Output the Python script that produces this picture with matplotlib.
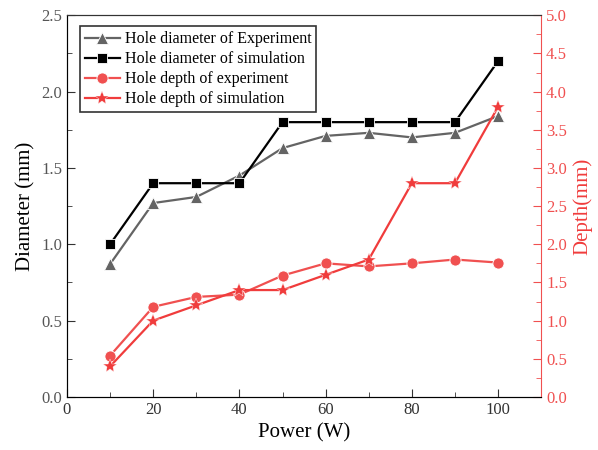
import numpy as np
import matplotlib
matplotlib.use('Agg')
from matplotlib import pyplot as plt
from matplotlib.ticker import MultipleLocator, FormatStrFormatter

power = [10, 20, 30, 40, 50, 60, 70, 80, 90, 100]
dia_exp = [0.87, 1.27, 1.31, 1.45, 1.63, 1.71, 1.73, 1.70, 1.73, 1.84]
dia_sim = [1.0, 1.4, 1.4, 1.4, 1.8, 1.8, 1.8, 1.8, 1.8, 2.2]
dep_exp = [0.54, 1.18, 1.31, 1.34, 1.59, 1.75, 1.71, 1.75, 1.80, 1.76]
dep_sim = [0.4, 1.0, 1.2, 1.4, 1.4, 1.6, 1.8, 2.8, 2.8, 3.8]

plt.rcParams['font.family'] = ['Liberation Serif', 'DejaVu Serif']
red = '#f03c3c'
red_light = '#f05050'

fig = plt.figure(figsize=(5.98, 4.5), dpi=100)
ax = fig.add_axes([0.112, 0.118, 0.793, 0.848])
ax2 = ax.twinx()

l1, = ax.plot(power, dia_exp, color='#646464', marker='^', ms=8, lw=1.6,
              mec='white', mew=0.6, label='Hole diameter of Experiment')
l2, = ax.plot(power, dia_sim, color='black', marker='s', ms=7, lw=1.6,
              mec='white', mew=0.6, label='Hole diameter of simulation')
l3, = ax2.plot(power, dep_exp, color=red_light, marker='o', ms=8, lw=1.6,
               mec='white', mew=0.6, label='Hole depth of experiment')
l4, = ax2.plot(power, dep_sim, color=red, marker='*', ms=10.5, lw=1.6,
               mec='white', mew=0.3, label='Hole depth of simulation')

ax.set_xlim(0, 110)
ax.set_ylim(0, 2.5)
ax2.set_ylim(0, 5)

ax.xaxis.set_major_locator(MultipleLocator(20))
ax.xaxis.set_minor_locator(MultipleLocator(10))
ax.yaxis.set_major_locator(MultipleLocator(0.5))
ax.yaxis.set_minor_locator(MultipleLocator(0.25))
ax.yaxis.set_major_formatter(FormatStrFormatter('%.1f'))
ax2.yaxis.set_major_locator(MultipleLocator(0.5))
ax2.yaxis.set_minor_locator(MultipleLocator(0.25))
ax2.yaxis.set_major_formatter(FormatStrFormatter('%.1f'))

ax.tick_params(which='both', direction='in', labelsize=12, colors='#333333')
ax.tick_params(which='major', length=6)
ax.tick_params(which='minor', length=3.5)
ax.tick_params(axis='y', labelcolor='#555555')
ax2.tick_params(which='both', direction='in', labelsize=12, colors=red_light)
ax2.tick_params(which='major', length=6)
ax2.tick_params(which='minor', length=3.5)
ax2.spines['right'].set_color(red_light)
ax.spines['right'].set_visible(False)
for s in ['left', 'bottom', 'top']:
    ax.spines[s].set_color('#333333')
ax2.spines['top'].set_color('#333333')

ax.set_xlabel('Power (W)', fontsize=15)
ax.set_ylabel('Diameter (mm)', fontsize=15)
ax2.set_ylabel('Depth(mm)', fontsize=15, color=red)

leg = ax.legend(handles=[l1, l2, l3, l4], loc='upper left',
                bbox_to_anchor=(0.027, 0.971), borderaxespad=0,
                fontsize=11.5, frameon=True,
                fancybox=False, edgecolor='black', handlelength=2.2,
                borderpad=0.3, labelspacing=0.25, handletextpad=0.3)
leg.get_frame().set_linewidth(1.2)

fig.savefig('out.png', dpi=100)
